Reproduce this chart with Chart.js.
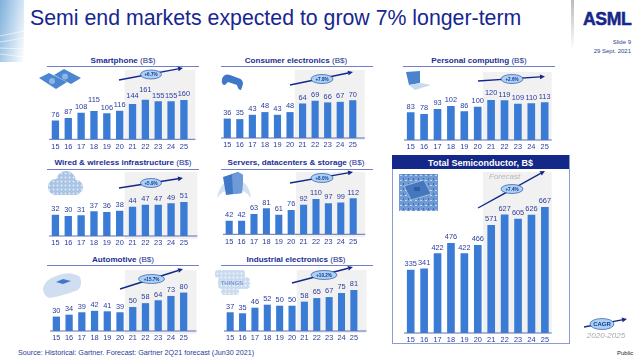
<!DOCTYPE html>
<html>
<head>
<meta charset="utf-8">
<title>Semi end markets</title>
<script src="https://cdn.jsdelivr.net/npm/chart.js@4"></script>
<style>
  html, body { margin: 0; padding: 0; background: #fff; }
  #slide { position: relative; width: 640px; height: 359px; overflow: hidden; font-family: "Liberation Sans", Arial, sans-serif; }
  #slide canvas { position: absolute; }
  .txt { position: absolute; white-space: nowrap; line-height: 1; }
  .mid { transform: translate(-50%, -50%); }
  .panelTitle { font-size: 8.1px; font-weight: bold; color: #1c2f92; }
  .rule { position: absolute; height: 1px; background: #6f80c8; }
  #overlay { position: absolute; left: 0; top: 0; }
</style>
</head>
<body>
<div id="slide">
  <div style="position:absolute;left:0;top:0;width:24px;height:62px;background:linear-gradient(100deg,#7fb0dc 0%,#c4dcf0 55%,#fff 100%);"></div>
  <div style="position:absolute;left:571px;top:0;width:3px;height:50px;background:linear-gradient(#bbb,#fff);"></div>
  <div class="txt" style="left:30px;top:8px;font-size:21.3px;color:#16278f;">Semi end markets expected to grow 7% longer-term</div>
  <div class="txt" style="left:583px;top:11px;font-size:17.6px;font-weight:bold;color:#14288a;letter-spacing:-0.4px;-webkit-text-stroke:0.5px #14288a;">ASML</div>
  <div class="txt" style="right:9px;top:39px;font-size:6px;color:#2b3f90;">Slide 9</div>
  <div class="txt" style="right:9px;top:48px;font-size:6px;color:#2b3f90;">29 Sept. 2021</div>

  <div style="position:absolute;left:392px;top:155px;width:176px;height:187px;border:1px solid #8b9bd8;"></div>
  <div style="position:absolute;left:392px;top:155px;width:177px;height:14px;background:#14288a;"></div>
  <div class="txt mid" style="left:480.5px;top:162.5px;font-size:9px;font-weight:bold;color:#fff;">Total Semiconductor, B$</div>
  <div class="txt" style="left:489px;top:173px;font-size:8px;font-style:italic;color:#b4b4b4;z-index:3;">Forecast</div>

  <div class="txt" style="left:18px;top:349px;font-size:7.2px;color:#2a3d96;">Source: Historical: Gartner. Forecast: Gartner 2Q21 forecast (Jun30 2021)</div>
  <div class="txt" style="left:617px;top:350px;font-size:6px;color:#222;">Public</div>
  <div class="txt mid" style="left:606px;top:336px;font-size:8px;font-style:italic;color:#a8a8a8;z-index:3;">2020-2025</div>

  <svg id="overlay" width="640" height="359" style="z-index:2;">
    <defs>
      <pattern id="dots" width="4" height="4" patternUnits="userSpaceOnUse">
        <rect width="4" height="4" fill="#a9c4e4"/>
        <circle cx="1.5" cy="1.5" r="1" fill="#e3edf8"/>
      </pattern>
      <pattern id="board" width="5" height="5" patternUnits="userSpaceOnUse">
        <rect width="5" height="5" fill="#6f9ad4"/>
        <rect x="0" y="0" width="2" height="1" fill="#c4d8ef"/>
        <rect x="3" y="3" width="1" height="2" fill="#3f6fb8"/>
      </pattern>
    </defs>
    <g stroke="#fff" stroke-width="0.8" opacity="0.7">
      <line x1="0" y1="36" x2="24" y2="31"/><line x1="0" y1="42" x2="24" y2="38"/><line x1="0" y1="48" x2="24" y2="49"/><line x1="0" y1="54" x2="24" y2="57"/>
    </g>
    <g style="filter:blur(0.4px)">
      <!-- phones -->
      <polygon points="54,75 64,69 81,78 71,84" fill="#4b86d0"/>
      <polygon points="39,78 49,73 67,82 56,89" fill="#4b86d0"/>
      <circle cx="65" cy="76.5" r="3" fill="#8db6e4"/>
      <circle cx="52" cy="81" r="3" fill="#8db6e4"/>
      <!-- gamepad -->
      <path d="M222 79 Q224 73 230 75 L238 78 Q243 79 243 84 L241 90 Q238 90 237 85 L228 82 L225 85 Q221 85 222 79 Z" fill="#3f78c8"/>
      <!-- cloud -->
      <g fill="url(#dots)">
        <circle cx="56" cy="187" r="8"/><circle cx="66" cy="181" r="10"/><circle cx="76" cy="187" r="7"/><rect x="52" y="187" width="28" height="8" rx="4"/>
      </g>
      <!-- servers -->
      <path d="M217 198 Q220 180 234 180 Q249 180 251 198 Q246 190 234 189 Q222 190 217 198 Z" fill="#d3e2f2"/>
      <polygon points="223,177 238,172 243,175 242,193 226,195" fill="#3f78c8"/>
      <polygon points="232,175 238,172 243,175 242,193 233,194" fill="#6f9ad8"/>
      <!-- car -->
      <path d="M43 288 Q46 279 56 276 Q70 270 80 277 Q83 285 78 290 Q62 296 50 298 Q43 296 43 288 Z" fill="#cfdef0"/>
      <polygon points="56,282 63,279 71,281 63,284" fill="#3f78c8"/>
      <!-- things -->
      <g fill="url(#dots)" opacity="0.6">
        <rect x="215" y="270" width="30" height="8" rx="3"/><rect x="218" y="277" width="32" height="12" rx="4"/><rect x="221" y="288" width="18" height="7" rx="3"/>
      </g>
      <text x="232" y="285" text-anchor="middle" font-family="Liberation Sans" font-size="6" font-weight="bold" fill="#7d9bcc">THINGS</text>
      <!-- laptop -->
      <polygon points="406,72 420,71 420,83 409,85" fill="#4a84cc"/>
      <polygon points="409,85 421,83 431,85 415,90" fill="#c6daf0"/>
      <!-- chip -->
      <rect x="399" y="174" width="39" height="37" fill="url(#board)"/>
      <polygon points="404,186 424,180 431,194 411,200" fill="#4577bd" stroke="#c4d8ef" stroke-width="0.6"/>
      <rect x="414" y="187" width="6" height="4" fill="#2d5ea8"/>
    </g>
    <g id="growthMarks"></g>
  </svg>
</div>

<script>
// Years on the x axis, same for every panel
const categories = ['15', '16', '17', '18', '19', '20', '21', '22', '23', '24', '25'];

// Market values in B$
const smartphone = [76, 87, 108, 115, 106, 116, 144, 161, 155, 155, 160];
const consumer = [36, 35, 43, 48, 43, 48, 64, 69, 66, 67, 70];
const personal = [83, 78, 93, 102, 86, 100, 120, 119, 109, 110, 113];
const wired = [32, 30, 31, 37, 36, 38, 44, 47, 47, 49, 51];
const servers = [42, 42, 63, 81, 61, 76, 92, 110, 97, 99, 112];
const automotive = [30, 34, 39, 42, 41, 39, 50, 58, 64, 73, 80];
const industrial = [37, 35, 46, 52, 50, 50, 58, 65, 67, 75, 81];
const totalSemi = [335, 341, 422, 476, 422, 466, 571, 627, 605, 626, 667];

const panelTitles = ['Smartphone', 'Consumer electronics', 'Personal computing', 'Wired & wireless infrastructure', 'Servers, datacenters & storage', 'Automotive', 'Industrial electronics', ''];
const growthLabels = ['+6.7%', '+7.8%', '+2.6%', '+5.9%', '+8.0%', '+15.7%', '+10.2%', '+7.4%'];

// Layout of each panel on the slide, in pixels
const panels = [
  { data: smartphone, title: 0, left: 48.6, step: 12.85, top: 70, base: 139.3, yMax: 282, ruleX: 47, ruleY: 66, titleX: 123, titleY: 61, bandRight: 195, bandBelow: 1, arrow: [119, 80, 183, 68, 151, 74.5, 10.5], lift: [0, 0, 0, 5, 0, 0, 2, 4, 0, 0, 0] },
  { data: consumer, title: 1, left: 221.2, step: 12.55, top: 70, base: 138, yMax: 126, ruleX: 221, ruleY: 66, titleX: 296, titleY: 61, bandRight: 365, bandBelow: 2, arrow: [290, 85, 353, 72, 322, 79, 11], lift: [] },
  { data: personal, title: 2, left: 404.3, step: 13.4, top: 72, base: 140, yMax: 204, ruleX: 403, ruleY: 66, titleX: 479, titleY: 61, bandRight: 552, bandBelow: 0, arrow: [478, 81, 545, 76.5, 512, 79, 11], lift: [0, 0, 0, 0, 0, 0, 1.5, 0, 0, 0, 0] },
  { data: wired, title: 3, left: 48.6, step: 12.85, top: 172, base: 236, yMax: 96, ruleX: 47, ruleY: 169, titleX: 123, titleY: 163, bandRight: 197, bandBelow: 3, arrow: [119, 188, 183, 178, 151, 183, 10.5], lift: [] },
  { data: servers, title: 4, left: 222.8, step: 12.4, top: 172, base: 234.3, yMax: 194, ruleX: 221, ruleY: 169, titleX: 296, titleY: 163, bandRight: 365, bandBelow: 3, arrow: [290, 183, 353, 172, 322, 178, 11], lift: [] },
  { data: automotive, title: 5, left: 49.6, step: 12.73, top: 270, base: 331, yMax: 127, ruleX: 47, ruleY: 265, titleX: 123, titleY: 260, bandRight: 196, bandBelow: 3, arrow: [120, 289, 183, 269, 151.5, 279, 13], lift: [] },
  { data: industrial, title: 6, left: 223.5, step: 12.37, top: 270, base: 331, yMax: 120.5, ruleX: 221, ruleY: 265, titleX: 296, titleY: 260, bandRight: 366, bandBelow: 2, arrow: [292, 283, 353, 267, 324, 275, 13], lift: [] },
  { data: totalSemi, title: 7, left: 404.3, step: 13.43, top: 172, base: 333, yMax: 852, bandRight: 552, bandBelow: 0, arrow: [478, 208, 545, 171, 512, 189, 11], lift: [] }
];

const leftPad = 5;
const axisHeight = 14;

// Grey forecast band behind the bars, plus the baseline
const forecastBand = {
  id: 'forecastBand',
  beforeDatasetsDraw(chart, args, opts) {
    const { ctx, chartArea, scales } = chart;
    const start = scales.x.getPixelForValue(6) - opts.step / 2 - 1.5;
    ctx.save();
    ctx.fillStyle = '#f1f1f1';
    ctx.fillRect(start, 0, opts.right - start, chartArea.bottom + opts.below);
    ctx.restore();
  },
  afterDatasetsDraw(chart, args, opts) {
    const { ctx, chartArea } = chart;
    ctx.save();
    ctx.fillStyle = '#5b70b8';
    ctx.fillRect(chartArea.left, chartArea.bottom - 0.5, opts.right - chartArea.left, 1);
    ctx.restore();
  }
};

// Value labels above the bars (no datalabels plugin available here)
const barValues = {
  id: 'barValues',
  afterDatasetsDraw(chart, args, opts) {
    const { ctx } = chart;
    const meta = chart.getDatasetMeta(0);
    ctx.save();
    ctx.font = '7.4px "Liberation Sans"';
    ctx.fillStyle = '#2a3c9c';
    ctx.textAlign = 'center';
    ctx.textBaseline = 'middle';
    meta.data.forEach((bar, i) => {
      const lift = opts.lift[i] || 0;
      ctx.fillText(chart.data.datasets[0].data[i], bar.x, bar.y - 5.7 - lift);
    });
    ctx.restore();
  }
};

function addText(cls, text, x, y, html) {
  const el = document.createElement('div');
  el.className = 'txt mid ' + cls;
  if (html) el.innerHTML = html; else el.textContent = text;
  el.style.left = x + 'px';
  el.style.top = y + 'px';
  document.getElementById('slide').appendChild(el);
}

function addRule(x, y) {
  const el = document.createElement('div');
  el.className = 'rule';
  el.style.left = x + 'px';
  el.style.top = y + 'px';
  el.style.width = '152px';
  document.getElementById('slide').appendChild(el);
}

// Arrow with the CAGR ellipse on it
function addGrowthMark(a, label, ry, fontSize) {
  const svgNS = 'http://www.w3.org/2000/svg';
  const group = document.getElementById('growthMarks');
  const make = (tag, attrs) => {
    const el = document.createElementNS(svgNS, tag);
    Object.keys(attrs).forEach(k => el.setAttribute(k, attrs[k]));
    group.appendChild(el);
    return el;
  };
  const angle = Math.atan2(a[3] - a[1], a[2] - a[0]);
  const backX = a[2] - 5 * Math.cos(angle);
  const backY = a[3] - 5 * Math.sin(angle);
  const sideX = 2.4 * Math.sin(angle);
  const sideY = 2.4 * Math.cos(angle);
  make('line', { x1: a[0], y1: a[1], x2: backX, y2: backY, stroke: '#14288a', 'stroke-width': 1.4 });
  make('polygon', { points: `${a[2]},${a[3]} ${backX - sideX},${backY + sideY} ${backX + sideX},${backY - sideY}`, fill: '#14288a' });
  make('ellipse', { cx: a[4], cy: a[5], rx: a[6], ry: ry, fill: '#a8d3f4', stroke: '#1c3a9a', 'stroke-width': 0.6 });
  const t = make('text', { x: a[4], y: a[5] + fontSize * 0.35, 'text-anchor': 'middle', 'font-family': 'Liberation Sans', 'font-size': fontSize, 'font-weight': 'bold', fill: '#1c2f92' });
  t.textContent = label;
}

panels.forEach(p => {
  const canvas = document.createElement('canvas');
  const width = Math.ceil(Math.max(p.step * 11, p.bandRight - p.left) + leftPad);
  const height = Math.round(p.base - p.top + axisHeight);
  canvas.width = width;
  canvas.height = height;
  canvas.style.width = width + 'px';
  canvas.style.height = height + 'px';
  canvas.style.left = (p.left - leftPad) + 'px';
  canvas.style.top = p.top + 'px';
  document.getElementById('slide').appendChild(canvas);

  new Chart(canvas.getContext('2d'), {
    type: 'bar',
    data: {
      labels: categories,
      datasets: [{
        data: p.data,
        backgroundColor: '#3a7bd5',
        categoryPercentage: 1,
        barPercentage: 0.57
      }]
    },
    options: {
      responsive: false,
      animation: false,
      events: [],
      layout: { padding: { left: leftPad, right: width - leftPad - p.step * 11, top: 0, bottom: 0 } },
      plugins: {
        legend: { display: false },
        tooltip: { enabled: false },
        forecastBand: { step: p.step, right: p.bandRight - p.left + leftPad, below: p.bandBelow },
        barValues: { lift: p.lift }
      },
      scales: {
        y: { display: false, min: 0, max: p.yMax },
        x: {
          grid: { display: false, drawTicks: false },
          border: { display: false },
          afterFit: scale => { scale.height = height - (p.base - p.top); },
          ticks: {
            font: { family: '"Liberation Sans"', size: 7.4 },
            color: '#2a3c9c',
            padding: 3,
            maxRotation: 0,
            autoSkip: false
          }
        }
      }
    },
    plugins: [forecastBand, barValues]
  });

  if (panelTitles[p.title]) {
    addText('panelTitle', '', p.titleX, p.titleY, panelTitles[p.title] + ' <span style="font-weight:normal">(B$)</span>');
    addRule(p.ruleX, p.ruleY);
  }
  addGrowthMark(p.arrow, growthLabels[p.title], 4.5, 4.6);
});

// Legend mark at the bottom right
addGrowthMark([584, 327, 627, 319, 602, 324, 12], 'CAGR', 5.5, 6);
</script>
</body>
</html>
